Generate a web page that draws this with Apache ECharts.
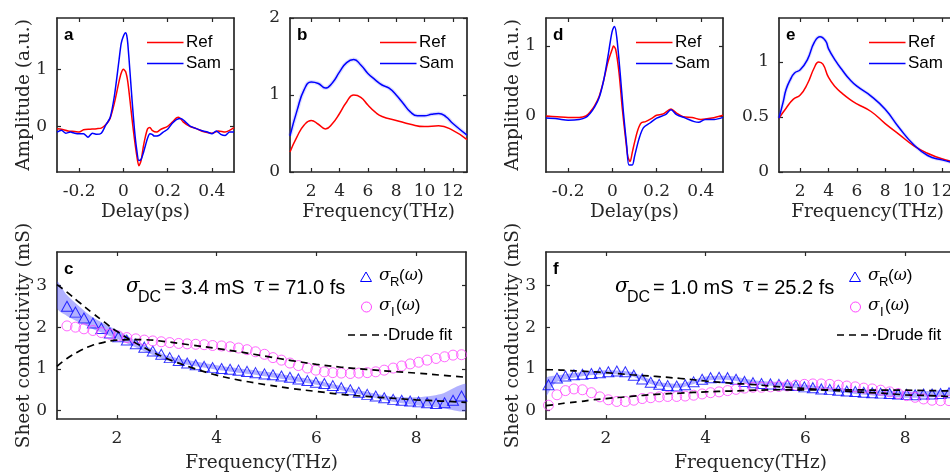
<!DOCTYPE html>
<html>
<head>
<meta charset="utf-8">
<script src="https://cdn.jsdelivr.net/npm/echarts@6/dist/echarts.min.js"></script>
<style>
  html, body { margin: 0; padding: 0; background: #ffffff; }
  #chart { width: 950px; height: 473px; }
</style>
</head>
<body>
<div id="chart"></div>
<script>
// ---------- time-domain transients (panel a: sample 1, panel d: sample 2) ----------
const tRefA = [-0.30,-0.28,-0.25,-0.22,-0.20,-0.18,-0.15,-0.12,-0.10,-0.08,-0.06,-0.04,-0.02,-0.01,0.00,0.01,0.02,0.03,0.04,0.05,0.06,0.07,0.08,0.09,0.10,0.11,0.12,0.13,0.15,0.17,0.20,0.22,0.24,0.25,0.27,0.30,0.33,0.36,0.40,0.43,0.46,0.48,0.50];
const yRefA = [-0.04,-0.05,-0.08,-0.09,-0.10,-0.06,-0.05,-0.04,-0.03,0.03,0.14,0.42,0.78,0.93,1.00,0.96,0.78,0.45,0.10,-0.22,-0.50,-0.69,-0.60,-0.36,-0.17,-0.04,-0.02,-0.07,-0.10,-0.05,0.00,0.07,0.15,0.16,0.08,0.00,-0.04,-0.09,-0.12,-0.08,-0.10,-0.07,-0.02];
const tSamA = [-0.30,-0.28,-0.26,-0.24,-0.22,-0.20,-0.18,-0.16,-0.14,-0.12,-0.10,-0.08,-0.06,-0.04,-0.02,-0.01,0.00,0.01,0.015,0.02,0.03,0.04,0.05,0.06,0.07,0.08,0.09,0.10,0.11,0.12,0.13,0.14,0.16,0.18,0.20,0.22,0.24,0.26,0.28,0.30,0.33,0.36,0.38,0.40,0.42,0.44,0.46,0.48,0.50];
const ySamA = [-0.10,-0.07,-0.12,-0.10,-0.12,-0.13,-0.13,-0.19,-0.12,-0.14,-0.12,0.02,0.15,0.55,1.15,1.45,1.58,1.64,1.60,1.45,0.95,0.42,-0.05,-0.40,-0.60,-0.58,-0.47,-0.33,-0.20,-0.13,-0.14,-0.17,-0.16,-0.10,-0.05,0.05,0.12,0.14,0.08,0.01,-0.04,-0.08,-0.10,-0.13,-0.08,-0.14,-0.16,-0.10,-0.10];

const tRefD = [-0.30,-0.25,-0.20,-0.15,-0.12,-0.10,-0.08,-0.06,-0.04,-0.02,0.00,0.005,0.015,0.03,0.045,0.06,0.07,0.08,0.09,0.10,0.115,0.13,0.15,0.18,0.20,0.23,0.265,0.29,0.32,0.36,0.40,0.45,0.50];
const yRefD = [0.00,-0.01,-0.02,-0.02,0.00,0.06,0.15,0.28,0.50,0.77,0.96,1.00,0.95,0.62,0.10,-0.33,-0.58,-0.65,-0.52,-0.38,-0.20,-0.10,-0.08,-0.03,0.01,0.03,0.10,0.04,-0.01,-0.02,-0.05,-0.03,0.01];
const tSamD = [-0.30,-0.25,-0.20,-0.15,-0.12,-0.10,-0.08,-0.06,-0.04,-0.02,-0.01,0.00,0.01,0.02,0.035,0.05,0.065,0.075,0.09,0.10,0.12,0.14,0.17,0.20,0.24,0.265,0.29,0.33,0.37,0.39,0.42,0.46,0.50];
const ySamD = [-0.03,-0.04,-0.06,-0.05,-0.02,0.04,0.13,0.26,0.50,0.85,1.05,1.22,1.28,1.12,0.62,0.05,-0.43,-0.70,-0.70,-0.58,-0.33,-0.17,-0.10,-0.03,0.02,0.09,0.02,-0.03,-0.08,-0.09,-0.05,-0.05,-0.02];

// ---------- spectral amplitudes (panel b: sample 1, panel e: sample 2) ----------
const fRefB = [0.5,1,1.5,2,2.5,3,3.5,4,4.5,5,5.5,6,6.5,7,8,9,10,11,12,13];
const yRefB = [0.26,0.46,0.61,0.67,0.62,0.56,0.63,0.76,0.91,1.00,0.97,0.87,0.78,0.72,0.67,0.62,0.59,0.60,0.54,0.42];
const fSamB = [0.5,1,1.5,2,2.5,3,3.5,4,4.5,5,5.5,6,6.5,7,7.5,8,8.5,9,9.5,10,10.5,11,11.5,12,13];
const ySamB = [0.47,0.80,1.07,1.17,1.15,1.09,1.16,1.30,1.42,1.46,1.39,1.28,1.20,1.13,1.09,1.00,0.89,0.78,0.73,0.73,0.75,0.76,0.72,0.63,0.48];

const fRefE = [0.5,1,1.5,2,2.5,3,3.3,3.6,4,4.5,5,5.5,6,7,8,9,10,11,12,13];
const yRefE = [0.49,0.58,0.66,0.70,0.80,0.95,1.00,0.98,0.86,0.77,0.71,0.66,0.62,0.55,0.44,0.34,0.24,0.17,0.12,0.09];
const fSamE = [0.5,0.8,1,1.3,1.6,2,2.5,3,3.4,3.8,4,4.5,5,5.5,6,7,8,9,10,11,12,13];
const ySamE = [0.49,0.64,0.75,0.84,0.90,0.93,1.02,1.18,1.23,1.19,1.12,1.01,0.92,0.84,0.78,0.69,0.57,0.40,0.25,0.15,0.11,0.08];

// ---------- sheet conductivity, sample 1 (panel c) ----------
const fCondC = [1.00,1.17,1.34,1.52,1.69,1.86,2.03,2.20,2.38,2.55,2.72,2.89,3.06,3.24,3.41,3.58,3.75,3.92,4.10,4.27,4.44,4.61,4.78,4.96,5.13,5.30,5.47,5.64,5.82,5.99,6.16,6.33,6.50,6.68,6.85,7.02,7.19,7.36,7.54,7.71,7.88,8.05,8.22,8.40,8.57,8.74,8.91];
const sigRC = [2.50,2.36,2.22,2.10,1.97,1.86,1.77,1.69,1.60,1.52,1.43,1.35,1.27,1.20,1.14,1.10,1.06,1.03,1.01,0.99,0.97,0.94,0.91,0.88,0.86,0.83,0.80,0.76,0.72,0.68,0.65,0.60,0.55,0.50,0.44,0.39,0.35,0.31,0.27,0.25,0.23,0.21,0.19,0.17,0.19,0.25,0.35];
const sigIC = [2.03,2.00,1.96,1.92,1.87,1.83,1.79,1.75,1.72,1.69,1.67,1.65,1.63,1.61,1.60,1.59,1.58,1.56,1.55,1.53,1.50,1.46,1.41,1.35,1.27,1.21,1.14,1.08,1.02,0.97,0.93,0.91,0.90,0.89,0.90,0.91,0.93,0.97,1.02,1.07,1.12,1.16,1.21,1.25,1.29,1.33,1.34];
const bandFreqC = [0.8,1.0,1.5,2.0,2.5,3.0,4.0,5.0,6.0,7.0,7.5,8.0,8.5,9.0];
const bandHiC = [3.10,2.77,2.25,1.93,1.60,1.32,1.09,0.93,0.72,0.45,0.34,0.32,0.40,0.64];
const bandLoC = [2.45,2.27,1.97,1.72,1.45,1.20,0.98,0.82,0.62,0.35,0.22,0.13,0.07,0.00];
const fitFreq = [0.8,1.0,1.25,1.5,1.75,2,2.5,3,3.5,4,4.5,5,5.5,6,6.5,7,7.5,8,8.5,9];
const fitRC = [3.02,2.84,2.59,2.35,2.12,1.90,1.54,1.25,1.03,0.85,0.72,0.62,0.53,0.46,0.39,0.34,0.30,0.26,0.23,0.20];
const fitIC = [1.06,1.25,1.43,1.56,1.64,1.69,1.70,1.65,1.57,1.49,1.40,1.30,1.20,1.11,1.04,0.99,0.94,0.90,0.85,0.80];

// ---------- sheet conductivity, sample 2 (panel f) ----------
const fCondF = [0.85,1.02,1.19,1.36,1.53,1.71,1.88,2.05,2.22,2.39,2.56,2.73,2.90,3.07,3.24,3.42,3.59,3.76,3.93,4.10,4.27,4.44,4.61,4.78,4.95,5.12,5.30,5.47,5.64,5.81,5.98,6.15,6.32,6.49,6.66,6.83,7.00,7.17,7.34,7.51,7.69,7.86,8.03,8.20,8.37,8.54,8.71,8.88,9.05];
const sigRF = [0.62,0.78,0.83,0.86,0.87,0.89,0.91,0.93,0.95,0.93,0.85,0.76,0.68,0.63,0.60,0.59,0.62,0.69,0.75,0.79,0.80,0.79,0.75,0.70,0.67,0.65,0.64,0.63,0.62,0.60,0.57,0.55,0.52,0.51,0.49,0.47,0.46,0.44,0.43,0.42,0.41,0.40,0.39,0.38,0.40,0.40,0.41,0.43,0.46];
const sigIF = [0.13,0.38,0.48,0.52,0.50,0.43,0.33,0.26,0.22,0.22,0.25,0.29,0.31,0.33,0.34,0.34,0.35,0.37,0.40,0.43,0.45,0.48,0.51,0.54,0.56,0.56,0.57,0.58,0.59,0.61,0.63,0.64,0.64,0.63,0.61,0.59,0.57,0.54,0.52,0.49,0.45,0.41,0.36,0.32,0.28,0.25,0.24,0.24,0.22];
const bandFreqF = [0.8,1.0,1.5,2.0,2.5,3.0,3.5,4.0,4.5,5.0,5.5,6.0,6.5,7.0,7.5,8.0,8.5,9.0];
const bandHiF = [0.78,0.84,0.92,0.97,0.93,0.70,0.65,0.82,0.83,0.72,0.68,0.62,0.56,0.51,0.48,0.46,0.47,0.50];
const bandLoF = [0.35,0.68,0.82,0.87,0.83,0.60,0.55,0.72,0.73,0.62,0.58,0.51,0.45,0.40,0.35,0.31,0.32,0.38];
const fitRF = [0.98,0.98,0.96,0.95,0.93,0.91,0.86,0.82,0.77,0.71,0.66,0.62,0.57,0.53,0.49,0.45,0.42,0.38,0.36,0.33];
const fitIF = [0.12,0.15,0.19,0.22,0.26,0.29,0.34,0.39,0.42,0.45,0.47,0.49,0.50,0.50,0.50,0.50,0.49,0.49,0.48,0.47];

// ---------- tick values ----------
const delayTicks = [-0.2, 0, 0.2, 0.4];
const spectrumTicks = [2, 4, 6, 8, 10, 12];
const condFreqTicks = [2, 4, 6, 8];
const ampTicksA = [0, 1];
const ampTicksB = [0, 1, 2];
const ampTicksD = [0, 1];
const ampTicksE = [0, 0.5, 1];
const condTicks = [0, 1, 2, 3];

// ---------- styling ----------
const SERIF = 'DejaVu Serif';
const SANS = 'Liberation Sans';
const INK = '#262626';
const RED = '#ff0000';
const BLUE = '#0000ff';
const MAGENTA = '#ff44ff';
const BAND = 'rgba(70,70,255,0.42)';
const HALO = 'rgba(70,70,255,0.18)';

const panels = [
  { key: 'a', rect: [57, 18, 177, 154],  xr: [-0.3, 0.5], yr: [-0.8, 1.9], xt: delayTicks,    yt: ampTicksA, xname: 'Delay(ps)',      yname: 'Amplitude (a.u.)',        xgap: 31 },
  { key: 'b', rect: [290, 18, 177, 154], xr: [0.5, 13],   yr: [0, 2],      xt: spectrumTicks, yt: ampTicksB, xname: 'Frequency(THz)', yname: '',                        xgap: 31 },
  { key: 'd', rect: [546, 18, 177, 154], xr: [-0.3, 0.5], yr: [-0.8, 1.4], xt: delayTicks,    yt: ampTicksD, xname: 'Delay(ps)',      yname: 'Amplitude (a.u.)',        xgap: 31 },
  { key: 'e', rect: [779, 18, 177, 154], xr: [0.5, 13],   yr: [0, 1.4],    xt: spectrumTicks, yt: ampTicksE, xname: 'Frequency(THz)', yname: '',                        xgap: 31 },
  { key: 'c', rect: [57, 252, 409, 167], xr: [0.8, 9],    yr: [-0.2, 3.8], xt: condFreqTicks, yt: condTicks, xname: 'Frequency(THz)', yname: 'Sheet conductivity (mS)', xgap: 35 },
  { key: 'f', rect: [546, 252, 409, 167], xr: [0.8, 9],   yr: [-0.2, 3.8], xt: condFreqTicks, yt: condTicks, xname: 'Frequency(THz)', yname: 'Sheet conductivity (mS)', xgap: 35 }
];

const fmt = v => (Math.abs(v) < 1e-9 ? '0' : String(Math.round(v * 100) / 100));

const grids = [], xAxes = [], yAxes = [];
panels.forEach((p, gi) => {
  const [l, t, w, h] = p.rect;
  grids.push({ left: l, top: t, width: w, height: h, show: false, containLabel: false, outerBoundsMode: 'none' });
  const line = { show: true, onZero: false, lineStyle: { color: INK, width: 1.7 } };
  const tick = vals => ({ show: true, inside: true, length: 4, customValues: vals, lineStyle: { color: INK, width: 1.2 } });
  const label = (vals, margin) => ({ show: true, customValues: vals, formatter: fmt, color: INK,
                                     fontFamily: SERIF, fontSize: 17, margin: margin });
  const nameStyle = { fontFamily: SERIF, fontSize: 18.5, color: INK };
  xAxes.push({
    type: 'value', gridIndex: gi, position: 'bottom', min: p.xr[0], max: p.xr[1],
    axisLine: line, axisTick: tick(p.xt), axisLabel: label(p.xt, 11), splitLine: { show: false },
    name: p.xname, nameLocation: 'middle', nameGap: p.xgap, nameMoveOverlap: false, nameTextStyle: nameStyle
  });
  xAxes.push({
    type: 'value', gridIndex: gi, position: 'top', min: p.xr[0], max: p.xr[1],
    axisLine: line, axisTick: tick(p.xt), axisLabel: { show: false }, splitLine: { show: false }
  });
  yAxes.push({
    type: 'value', gridIndex: gi, position: 'left', min: p.yr[0], max: p.yr[1],
    axisLine: line, axisTick: tick(p.yt), axisLabel: label(p.yt, 10), splitLine: { show: false },
    name: p.yname, nameLocation: 'middle', nameGap: 23, nameMoveOverlap: false, nameTextStyle: nameStyle
  });
  yAxes.push({
    type: 'value', gridIndex: gi, position: 'right', min: p.yr[0], max: p.yr[1],
    axisLine: line, axisTick: tick(p.yt), axisLabel: { show: false }, splitLine: { show: false }
  });
});

const zip = (xs, ys) => xs.map((x, i) => [x, ys[i]]);
const axisOf = key => panels.findIndex(p => p.key === key) * 2;

function curve(key, xs, ys, color, width, smooth, z) {
  const ai = axisOf(key);
  return {
    type: 'line', xAxisIndex: ai, yAxisIndex: ai, data: zip(xs, ys),
    showSymbol: false, symbol: 'none', smooth: smooth, z: z || 3, silent: true,
    lineStyle: { color: color, width: width }, clip: true, animation: false
  };
}
function dashed(key, xs, ys) {
  const s = curve(key, xs, ys, '#000000', 1.7, 0.4, 6);
  s.lineStyle.type = [7, 5];
  return s;
}
// shaded uncertainty band drawn as one polygon between the low and high bounds
function band(key, xs, lo, hi) {
  const ai = axisOf(key);
  return {
    type: 'custom', xAxisIndex: ai, yAxisIndex: ai, silent: true, animation: false, z: 2, clip: true,
    data: xs.map((x, i) => [x, lo[i], hi[i]]),
    renderItem: (params, api) => {
      if (params.dataIndex !== 0) return null;
      const pts = [];
      for (let i = 0; i < xs.length; i++) pts.push(api.coord([xs[i], hi[i]]));
      for (let i = xs.length - 1; i >= 0; i--) pts.push(api.coord([xs[i], lo[i]]));
      const cs = params.coordSys;
      return {
        type: 'polygon', shape: { points: pts, smooth: 0.25 }, style: { fill: BAND, stroke: null },
        clipPath: { type: 'rect', shape: { x: cs.x, y: cs.y, width: cs.width, height: cs.height } }
      };
    }
  };
}
function markers(key, xs, ys, symbol, size, color) {
  const ai = axisOf(key);
  return {
    type: 'scatter', xAxisIndex: ai, yAxisIndex: ai, data: zip(xs, ys), symbol: symbol, symbolSize: size,
    itemStyle: { color: 'rgba(0,0,0,0)', borderColor: color, borderWidth: 1 }, silent: true, animation: false, z: 4
  };
}

const series = [
  // a
  curve('a', tRefA, yRefA, RED, 1.5, 0.25),
  curve('a', tSamA, ySamA, BLUE, 1.5, 0.25),
  // b (faint halo = spread of repeated scans)
  curve('b', fSamB, ySamB, HALO, 4, true, 2),
  curve('b', fRefB, yRefB, RED, 1.5, true),
  curve('b', fSamB, ySamB, BLUE, 1.5, true),
  // d
  curve('d', tRefD, yRefD, RED, 1.5, 0.3),
  curve('d', tSamD, ySamD, BLUE, 1.5, 0.3),
  // e
  curve('e', fSamE, ySamE, HALO, 3.5, true, 2),
  curve('e', fRefE, yRefE, RED, 1.5, true),
  curve('e', fSamE, ySamE, BLUE, 1.5, true),
  // c
  band('c', bandFreqC, bandLoC, bandHiC),
  markers('c', fCondC, sigRC, 'triangle', [11, 10], BLUE),
  markers('c', fCondC, sigIC, 'circle', 10, MAGENTA),
  dashed('c', fitFreq, fitRC),
  dashed('c', fitFreq, fitIC),
  // f
  band('f', bandFreqF, bandLoF, bandHiF),
  markers('f', fCondF, sigRF, 'triangle', [11, 10], BLUE),
  markers('f', fCondF, sigIF, 'circle', 10, MAGENTA),
  dashed('f', fitFreq, fitRF),
  dashed('f', fitFreq, fitIF)
];

// ---------- panel letters, legends and fit annotations ----------
const graphics = [];
function text(x, y, str, font, align, fill, rich) {
  const style = { text: str, font: font, fill: fill || '#000', align: align || 'left', verticalAlign: 'middle',
                  textAlign: align || 'left', textVerticalAlign: 'middle' };
  if (rich) style.rich = rich;
  graphics.push({ type: 'text', x: x, y: y, silent: true, z: 100, style: style });
}
function seg(x1, y1, x2, y2, color, dash) {
  graphics.push({ type: 'line', silent: true, z: 100, shape: { x1, y1, x2, y2 },
                  style: { stroke: color, lineWidth: 1.6, lineDash: dash || null } });
}
const fontSerif = (px, italic) => (italic ? 'italic ' : '') + px + 'px "' + SERIF + '"';
const fontSans = (px, bold) => (bold ? 'bold ' : '') + px + 'px "' + SANS + '"';

panels.forEach(p => {
  const [l, t] = p.rect;
  text(l + 7, t + 17, p.key, fontSans(17, true));
  if (['a', 'b', 'd', 'e'].includes(p.key)) {
    seg(l + 90, t + 24.5, l + 126.5, t + 24.5, RED);
    text(l + 129, t + 24.5, 'Ref', fontSans(17));
    seg(l + 90, t + 45.5, l + 126.5, t + 45.5, BLUE);
    text(l + 129, t + 45.5, 'Sam', fontSans(17));
  }
});

const fitLabels = { c: ['= 3.4 mS', '= 71.0 fs'], f: ['= 1.0 mS', '= 25.2 fs'] };
const omegaRich = { p: { font: fontSans(17), fill: '#000' }, w: { font: fontSerif(16, true), fill: '#000' } };
['c', 'f'].forEach(key => {
  const [l, t] = panels[panels.findIndex(p => p.key === key)].rect;
  // Drude parameters
  text(l + 69, t + 35, 'σ', fontSerif(20, true));
  text(l + 81, t + 46, 'DC', fontSans(16));
  text(l + 107, t + 36, fitLabels[key][0], fontSans(20));
  text(l + 196, t + 35, 'τ', fontSerif(20, true));
  text(l + 211, t + 36, fitLabels[key][1], fontSans(20));
  // legend: real part
  graphics.push({ type: 'polygon', silent: true, z: 100,
    shape: { points: [[l + 309, t + 20], [l + 303.5, t + 29.5], [l + 314.5, t + 29.5]] },
    style: { fill: 'none', stroke: BLUE, lineWidth: 1 } });
  text(l + 322, t + 24, 'σ', fontSerif(17, true));
  text(l + 333, t + 30, 'R', fontSans(13));
  text(l + 342, t + 24, '{p|(}{w|ω}{p|)}', fontSans(17), 'left', '#000', omegaRich);
  // legend: imaginary part
  graphics.push({ type: 'circle', silent: true, z: 100, shape: { cx: l + 309.5, cy: t + 55, r: 5 },
    style: { fill: 'none', stroke: MAGENTA, lineWidth: 1 } });
  text(l + 322, t + 54, 'σ', fontSerif(17, true));
  text(l + 334, t + 60, 'I', fontSans(13));
  text(l + 339, t + 54, '{p|(}{w|ω}{p|)}', fontSans(17), 'left', '#000', omegaRich);
  // legend: fit
  seg(l + 291, t + 83, l + 330, t + 83, '#000', [7, 5]);
  text(l + 331, t + 83, 'Drude fit', fontSans(17));
});

const chart = echarts.init(document.getElementById('chart'), null, { renderer: 'canvas' });
chart.setOption({
  animation: false,
  backgroundColor: '#ffffff',
  textStyle: { fontFamily: SERIF },
  grid: grids,
  xAxis: xAxes,
  yAxis: yAxes,
  series: series,
  graphic: graphics
});
</script>
</body>
</html>
